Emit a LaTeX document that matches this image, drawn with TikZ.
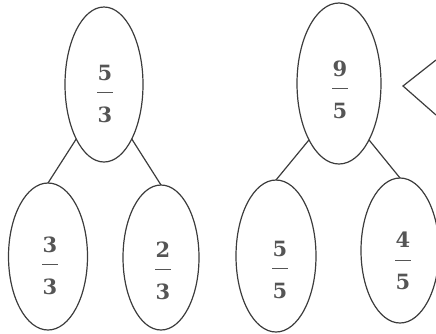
\documentclass[tikz,border=0pt]{standalone}
\usepackage{fontspec}
\newfontfamily\digitfont{DejaVu Serif}
\usepackage{tikz}
\usetikzlibrary{shapes.geometric,positioning}
\definecolor{ovalcolor}{RGB}{60,60,60}
\definecolor{digitcolor}{RGB}{85,85,85}
\newcommand{\frc}[2]{#1\\\rule[8pt]{16pt}{0.7pt}\\#2}

\begin{document}
\begin{tikzpicture}[
    x=1pt, y=-1pt,
    % Estilo para as elipses
    oval/.style={
        ellipse,
        draw=ovalcolor,
        line width=1.2pt,
        inner sep=0pt,
        outer sep=0pt
    },
    % Estilo para as fracoes
    fracnum/.style={
        align=center,
        inner sep=0pt,
        text=digitcolor,
        font=\digitfont\bfseries\fontsize{21}{21}\selectfont
    },
    % Estilo para os ramos
    branch/.style={
        line width=1.2pt,
        draw=ovalcolor
    },
]

\useasboundingbox (0,0) rectangle (436,333);

% ============================================================================
% Primeira arvore: 5/3
% ============================================================================

\node[oval, minimum width=78pt, minimum height=155pt] (topA) at (104,84.5) {};
\node[fracnum] (fracA) at (105,93.5) {\frc{5}{3}};

\node[oval, minimum width=79pt, minimum height=147pt] (leftA) at (48,256.5) {};
\node[fracnum] (fracAl) at (50,265.5) {\frc{3}{3}};

\node[oval, minimum width=76pt, minimum height=145pt] (rightA) at (161,257.5) {};
\node[fracnum] (fracAr) at (163,270.5) {\frc{2}{3}};

\draw[branch] (topA.243) -- (leftA.north);
\draw[branch] (topA.297) -- (rightA.north);

% ============================================================================
% Segunda arvore: 9/5
% ============================================================================

\node[oval, minimum width=84pt, minimum height=161pt] (topB) at (339,83.5) {};
\node[fracnum] (fracB) at (340,89.5) {\frc{9}{5}};

\node[oval, minimum width=80pt, minimum height=152pt] (leftB) at (276,256) {};
\node[fracnum] (fracBl) at (280,269.5) {\frc{5}{5}};

\node[oval, minimum width=78pt, minimum height=145pt] (rightB) at (400,250.5) {};
\node[fracnum] (fracBr) at (403,261) {\frc{4}{5}};

\draw[branch] (topB.242) -- (leftB.north);
\draw[branch] (topB.298) -- (rightB.north);

% ============================================================================
% Sinal de comparacao
% ============================================================================

\draw[branch, line join=miter] (436,60) -- (403,86) -- (436,115);

\end{tikzpicture}
\end{document}
